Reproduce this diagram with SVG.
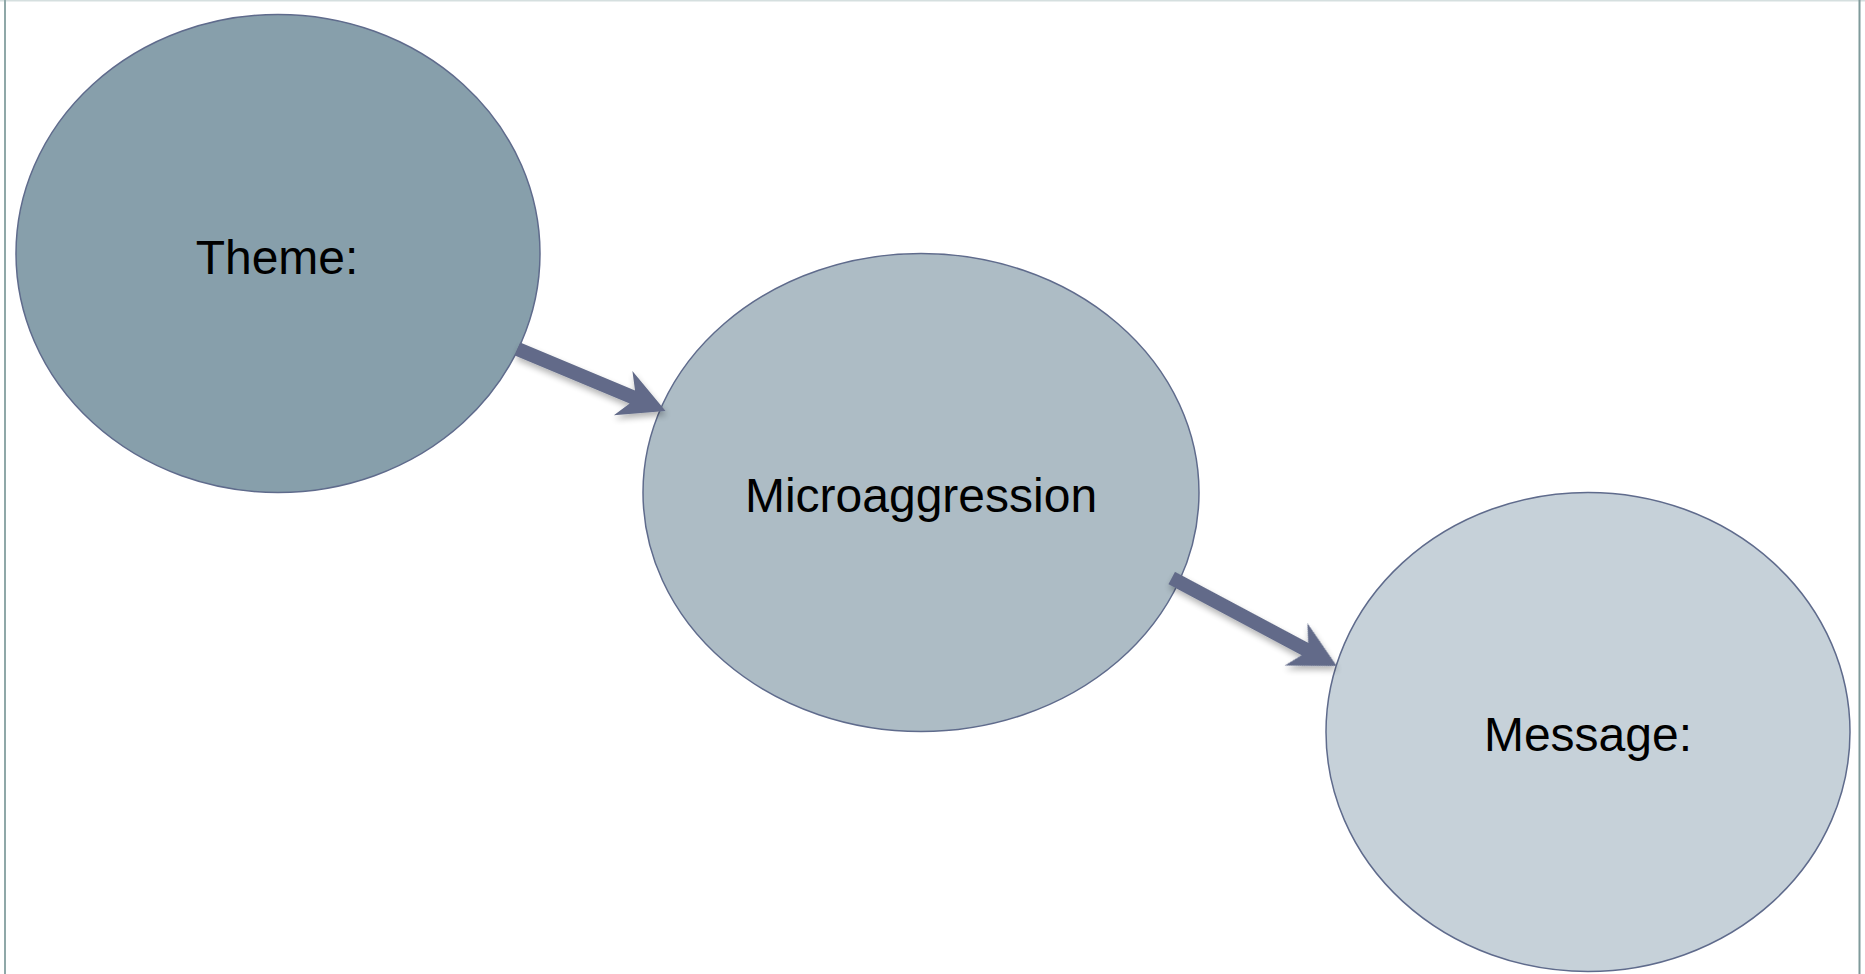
<svg xmlns="http://www.w3.org/2000/svg" width="1865" height="974" viewBox="0 0 1865 974">
<defs>
<style>
.node{stroke:#5f6b8c;stroke-width:1.5}
.lbl{font-family:"Liberation Sans",Arial,sans-serif;font-size:48px;fill:#000;text-anchor:middle}
.arrow{fill:#626b89}
.frame{fill:none}
</style>
<filter id="sh" x="-20%" y="-20%" width="140%" height="160%">
<feGaussianBlur in="SourceAlpha" stdDeviation="3"/>
<feOffset dx="1" dy="4" result="b"/>
<feComponentTransfer><feFuncA type="linear" slope="0.3"/></feComponentTransfer>
<feMerge><feMergeNode/><feMergeNode in="SourceGraphic"/></feMerge>
</filter>
</defs>
<rect width="1865" height="974" fill="#ffffff"/>
<g id="frame">
<line x1="0" y1="0.75" x2="1865" y2="0.75" stroke="#d5dfdf" stroke-width="1.5"/>
<line x1="5" y1="0" x2="5" y2="974" stroke="#8fa8a8" stroke-width="2"/>
<line x1="1859.5" y1="0" x2="1859.5" y2="974" stroke="#7f9a9a" stroke-width="2"/>
</g>
<g id="node-theme">
<ellipse class="node" cx="278" cy="253.5" rx="262" ry="239" fill="#879fab"/>
<text class="lbl" x="277" y="274">Theme:</text>
</g>
<g id="node-microaggression">
<ellipse class="node" cx="921" cy="492.5" rx="278" ry="239" fill="#adbcc5"/>
<text class="lbl" x="921" y="512">Microaggression</text>
</g>
<g id="node-message">
<ellipse class="node" cx="1588" cy="732" rx="262" ry="239.5" fill="#c6d1d9"/>
<text class="lbl" x="1588" y="751">Message:</text>
</g>
<g id="connectors" filter="url(#sh)">
<path class="arrow" transform="translate(517.5,349) rotate(22.7)" d="M0,-7 L124.5,-7 L114.5,-24 L160.5,0 L114.5,24 L124.5,7 L0,7 Z"/>
<path class="arrow" transform="translate(1171.7,578) rotate(28.07)" d="M0,-7 L151,-7 L141,-24 L187,0 L141,24 L151,7 L0,7 Z"/>
</g>
</svg>
